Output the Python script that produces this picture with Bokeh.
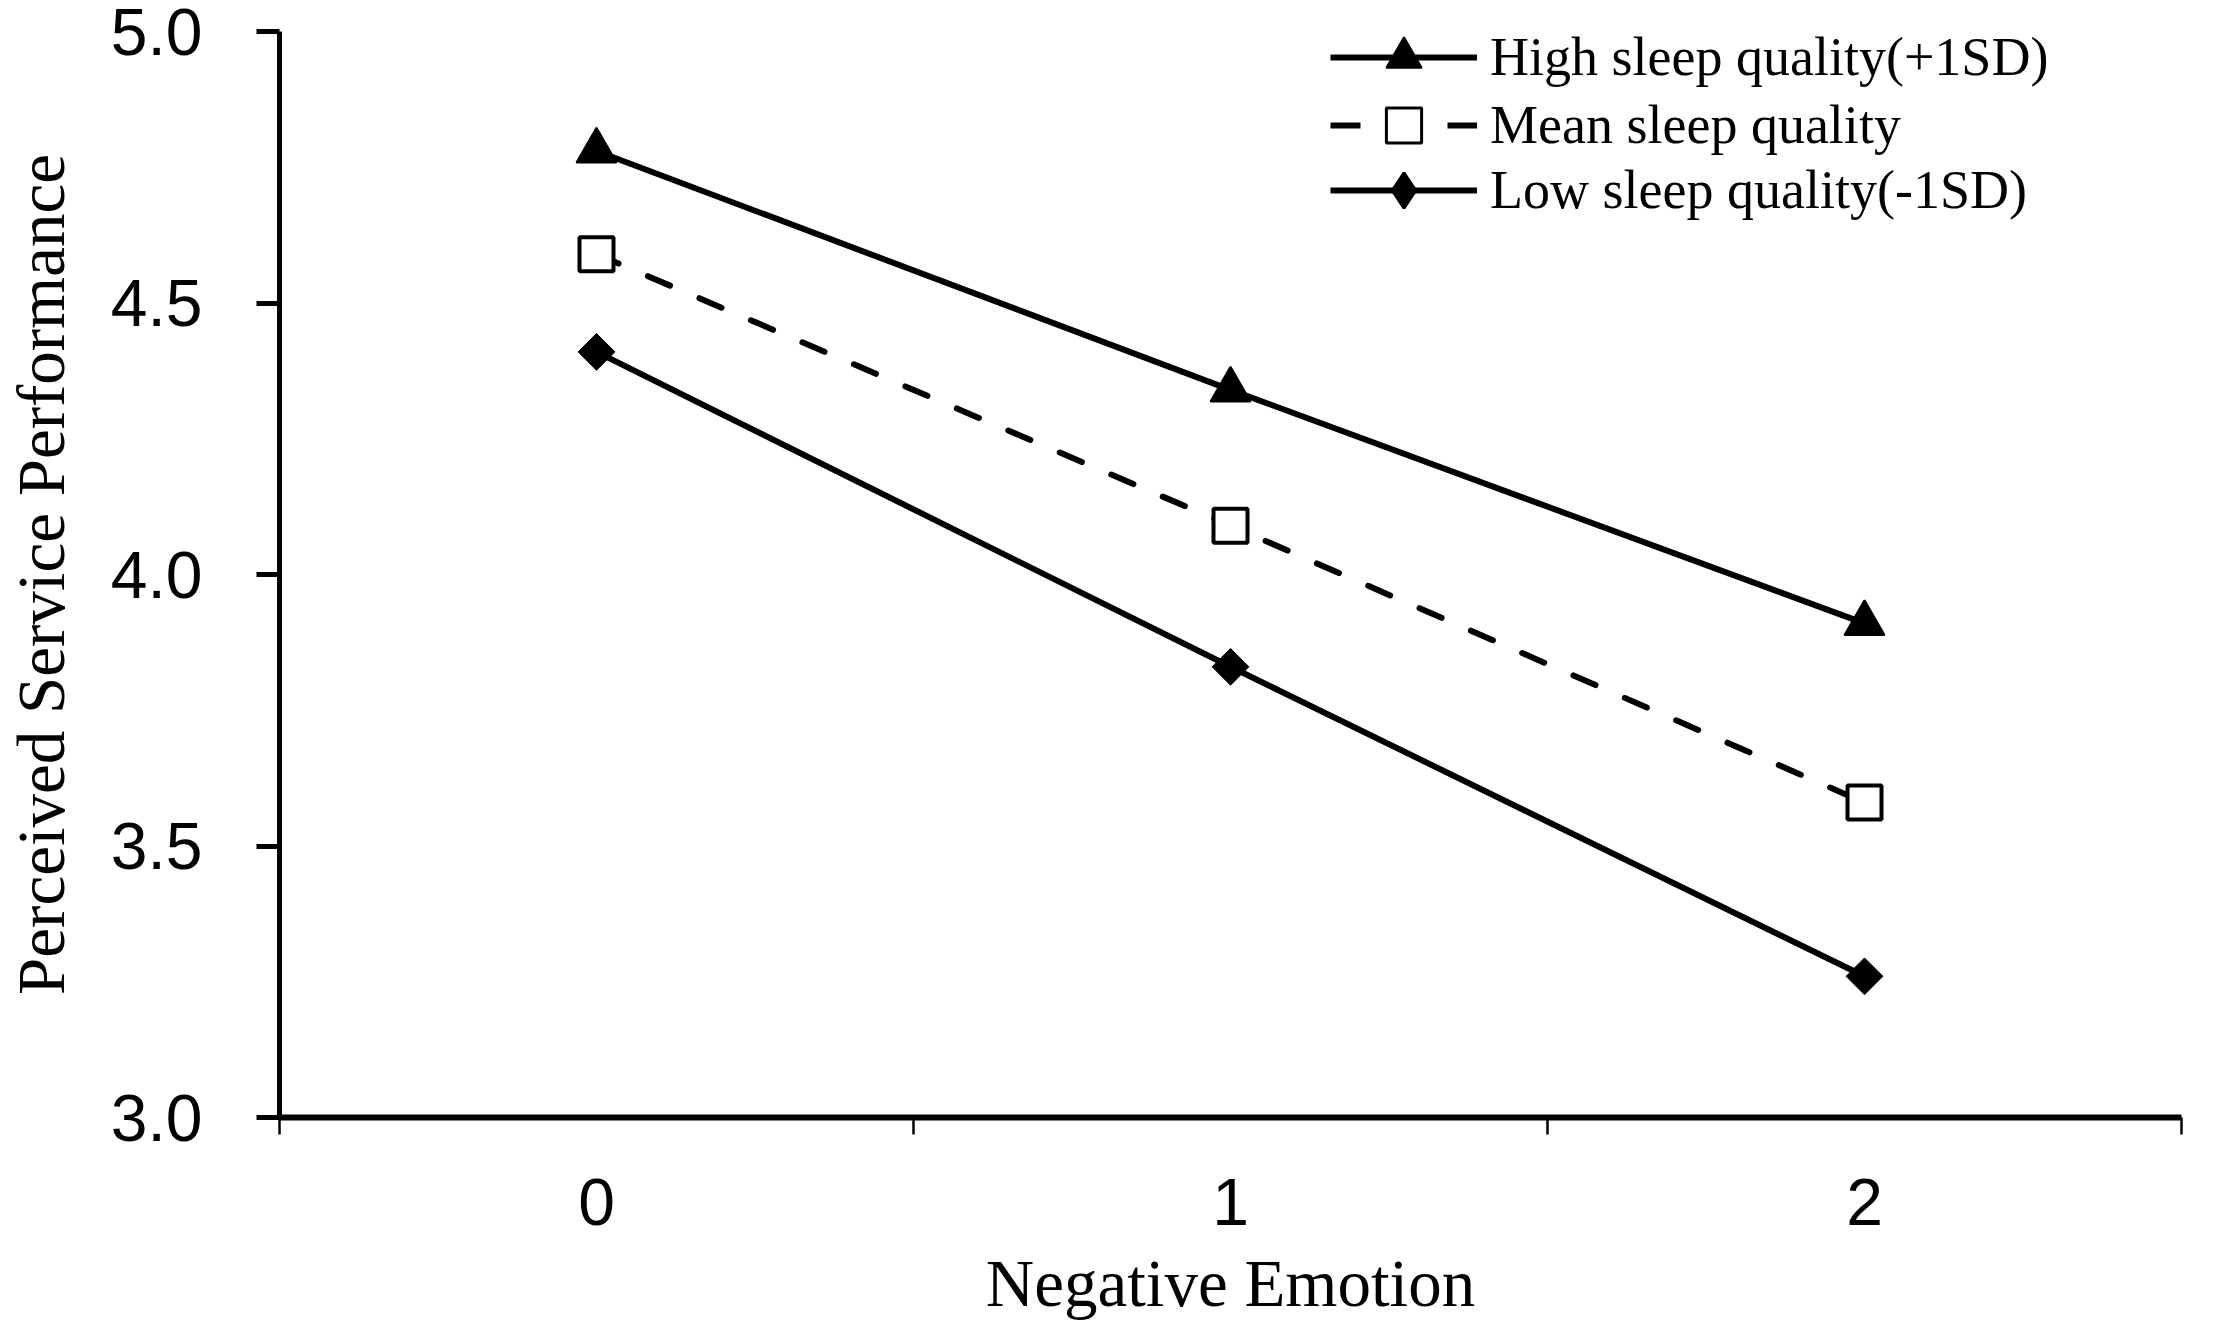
import math
from bokeh.plotting import figure
from bokeh.models import (Range1d, FixedTicker, PrintfTickFormatter, Legend, LegendItem,
                          ColumnDataSource)
from bokeh.embed import file_html
from bokeh.resources import INLINE

# ---- data ----
x_levels = [0, 1, 2]
x_tick_labels = ["0", "1", "2"]
y_ticks = [3.0, 3.5, 4.0, 4.5, 5.0]
high = [4.78, 4.34, 3.91]
mean = [4.59, 4.09, 3.58]
low = [4.41, 3.83, 3.26]
series_labels = ["High sleep quality(+1SD)", "Mean sleep quality", "Low sleep quality(-1SD)"]
x_title = "Negative Emotion"
y_title = "Perceived Service Performance"

W, H = 2201, 1322
FRAME_H = 1090
TOP = 31
p = figure(width=W, height=H, output_backend="svg", toolbar_location=None,
           x_range=Range1d(-0.5, 2.5), y_range=Range1d(3.0, 5.0),
           min_border_left=271, min_border_right=20, min_border_top=TOP,
           min_border_bottom=H - TOP - FRAME_H)
p.outline_line_color = None
p.xgrid.visible = False
p.ygrid.visible = False
p.background_fill_color = "white"
p.border_fill_color = "white"

# x axis
xa = p.xaxis[0]
xa.ticker = FixedTicker(ticks=x_levels, minor_ticks=[-0.5, 0.5, 1.5, 2.5])
xa.major_label_overrides = {v: s for v, s in zip(x_levels, x_tick_labels)}
xa.major_tick_out = 0
xa.major_tick_in = 0
xa.minor_tick_out = 17
xa.minor_tick_in = 0
xa.minor_tick_line_width = 2.5
xa.minor_tick_line_color = "black"
xa.axis_line_width = 6
xa.axis_line_color = "black"
xa.major_label_text_font = "Liberation Sans"
xa.major_label_text_font_size = "66px"
xa.major_label_text_color = "black"
xa.major_label_standoff = 44
xa.axis_label = x_title
xa.axis_label_text_font = "Liberation Serif"
xa.axis_label_text_font_size = "67px"
xa.axis_label_text_font_style = "normal"
xa.axis_label_text_color = "black"
xa.axis_label_standoff = 18

# y axis
ya = p.yaxis[0]
ya.ticker = FixedTicker(ticks=y_ticks, minor_ticks=[])
ya.formatter = PrintfTickFormatter(format="%.1f")
ya.major_tick_out = 23
ya.major_tick_in = 0
ya.major_tick_line_width = 5
ya.major_tick_line_color = "black"
ya.minor_tick_out = 0
ya.minor_tick_in = 0
ya.axis_line_width = 5
ya.axis_line_color = "black"
ya.major_label_text_font = "Liberation Sans"
ya.major_label_text_font_size = "66px"
ya.major_label_text_color = "black"
ya.major_label_standoff = 54
ya.axis_label = y_title
ya.axis_label_text_font = "Liberation Serif"
ya.axis_label_text_font_size = "67px"
ya.axis_label_text_font_style = "normal"
ya.axis_label_text_color = "black"
ya.axis_label_standoff = 30

LW = 6
src = ColumnDataSource(dict(x=x_levels, high=high, mean=mean, low=low))

r_high_line = p.line("x", "high", source=src, line_width=LW, line_color="black")
r_mean_line = p.line("x", "mean", source=src, line_width=LW, line_color="black",
                     line_dash="24 32", line_cap="round")
r_low_line = p.line("x", "low", source=src, line_width=LW, line_color="black")

r_high_m = p.scatter("x", "high", source=src, marker="triangle", size=40,
                     fill_color="black", line_color="black", line_width=2)
r_mean_m = p.scatter("x", "mean", source=src, marker="square", size=34,
                     fill_color="white", line_color="black", line_width=4)
r_low_m = p.scatter("x", "low", source=src, marker="square", angle=math.pi / 4, size=26,
                    fill_color="black", line_color="black", line_width=1)

# legend-only renderers (no visible data) for the key glyphs
nan = float("nan")
leg_src = ColumnDataSource(dict(x=[nan], y=[nan]))
l_high_line = p.line("x", "y", source=leg_src, line_width=LW, line_color="black")
l_high_m = p.scatter("x", "y", source=leg_src, marker="triangle",
                     fill_color="black", line_color="black", line_width=2)
l_mean_line = p.line("x", "y", source=leg_src, line_width=LW, line_color="black",
                     line_dash="30 87")
l_mean_m = p.scatter("x", "y", source=leg_src, marker="square",
                     fill_color="white", line_color="black", line_width=3)
l_low_line = p.line("x", "y", source=leg_src, line_width=LW, line_color="black")
l_low_m = p.scatter("x", "y", source=leg_src, marker="diamond",
                    fill_color="black", line_color="black", line_width=3)

GH = 88
row_centers = [61, 129, 194]   # key row centres, px from top of the canvas
key_renderers = [[l_high_line, l_high_m], [l_mean_line, l_mean_m], [l_low_line, l_low_m]]
for label, rends, cy in zip(series_labels, key_renderers, row_centers):
    vy = (TOP + FRAME_H) - (cy + GH / 2)
    lg = Legend(items=[LegendItem(label=label, renderers=rends)], location=(1051, vy))
    lg.label_text_font = "Liberation Serif"
    lg.label_text_font_size = "54px"
    lg.label_text_color = "black"
    lg.glyph_width = 147
    lg.glyph_height = GH
    lg.label_height = GH
    lg.label_standoff = 13
    lg.spacing = 0
    lg.padding = 0
    lg.margin = 0
    lg.border_line_color = None
    lg.background_fill_alpha = 0
    p.add_layout(lg, "center")

open("out.html", "w").write(file_html(p, INLINE))
